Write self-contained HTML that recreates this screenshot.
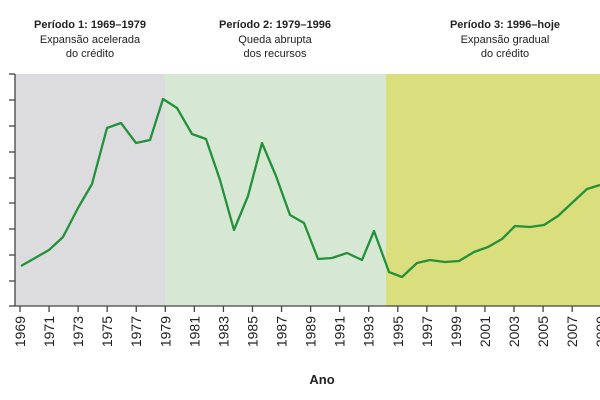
<!DOCTYPE html>
<html><head><meta charset="utf-8"><style>
body{margin:0;background:#fff;}
svg{display:block;font-family:"Liberation Sans",sans-serif;}
</style></head><body>
<svg width="600" height="400" viewBox="0 0 600 400">
<rect x="15" y="74" width="150" height="232" fill="#dcdcde"/>
<rect x="165" y="74" width="221" height="232" fill="#d6e8d4"/>
<rect x="386" y="74" width="214" height="232" fill="#dade7c"/>
<g font-size="11" text-anchor="middle" fill="#222">
<text x="90" y="28" font-weight="bold">Período 1: 1969–1979</text>
<text x="90" y="43">Expansão acelerada</text>
<text x="90" y="57">do crédito</text>
<text x="275" y="28" font-weight="bold">Período 2: 1979–1996</text>
<text x="275" y="43">Queda abrupta</text>
<text x="275" y="57">dos recursos</text>
<text x="505" y="28" font-weight="bold">Período 3: 1996–hoje</text>
<text x="505" y="43">Expansão gradual</text>
<text x="505" y="57">do crédito</text>
</g>
<g stroke="#444" stroke-width="1.3">
<line x1="15" y1="74" x2="15" y2="306"/>
<line x1="15" y1="306" x2="600" y2="306"/>
<line x1="9" y1="74" x2="15" y2="74"/><line x1="9" y1="100" x2="15" y2="100"/>
<line x1="9" y1="126" x2="15" y2="126"/><line x1="9" y1="152" x2="15" y2="152"/>
<line x1="9" y1="178" x2="15" y2="178"/><line x1="9" y1="203" x2="15" y2="203"/>
<line x1="9" y1="229" x2="15" y2="229"/><line x1="9" y1="255" x2="15" y2="255"/>
<line x1="9" y1="281" x2="15" y2="281"/><line x1="9" y1="306" x2="15" y2="306"/>
</g>
<g stroke="#444" stroke-width="1.3" id="xt"></g>
<g font-size="14" fill="#222" id="xl"></g>
<polyline fill="none" stroke="#23913a" stroke-width="2.3" stroke-linejoin="round" points="21,266 35,258 49,250 63,237 78,208 92,184 107,128 121,123 136,143 150,140 163,99 177,108 192,134 206,139 220,180 234,230 248,196 262,143 276,176 290,215 304,223 318,259 332,258 347,253 362,260 374,231 389,272 402,277 417,263 430,260 445,262 459,261 474,252 488,247 502,239 515,226 530,227 544,225 558,216 573,202 587,189 600,185"/>
<text x="322" y="384" font-size="13" font-weight="bold" text-anchor="middle" fill="#222">Ano</text>
<script>
var t=document.getElementById('xt'),l=document.getElementById('xl'),ns='http://www.w3.org/2000/svg';
for(var y=1969;y<=2009;y+=2){var x=20+14.53*(y-1969);
var ln=document.createElementNS(ns,'line');ln.setAttribute('x1',x);ln.setAttribute('x2',x);ln.setAttribute('y1',306);ln.setAttribute('y2',312);t.appendChild(ln);
var tx=document.createElementNS(ns,'text');tx.setAttribute('transform','translate('+(x+5)+',316) rotate(-90)');tx.setAttribute('text-anchor','end');tx.textContent=y;l.appendChild(tx);}
</script>
</svg>
</body></html>
